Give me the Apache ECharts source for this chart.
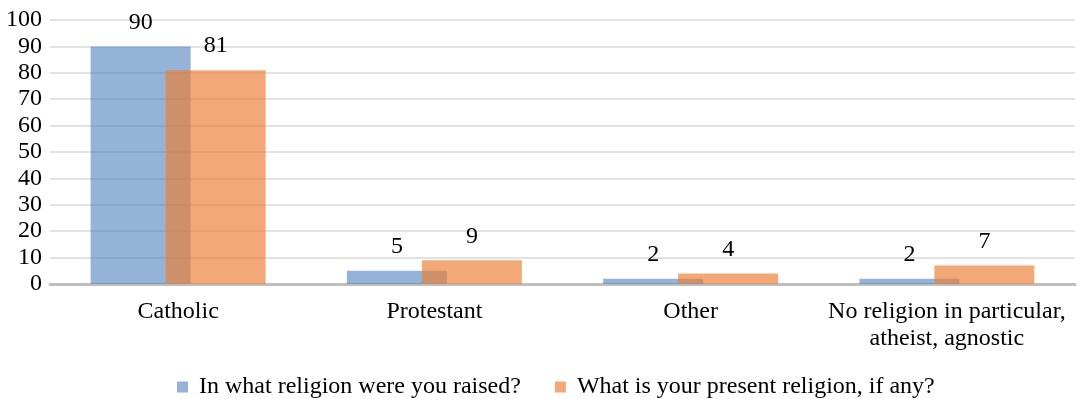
<!DOCTYPE html>
<html>
<head>
<meta charset="utf-8">
<script src="https://cdn.jsdelivr.net/npm/echarts@6/dist/echarts.min.js"></script>
<style>
  html, body { margin: 0; padding: 0; background: #fff; }
  #chart { width: 1085px; height: 399px; }
</style>
</head>
<body>
<div id="chart"></div>
<script>
// Survey answers, percent of respondents
const categories = ['Catholic', 'Protestant', 'Other', 'No religion in particular,\natheist, agnostic'];
const raisedName = 'In what religion were you raised?';
const presentName = 'What is your present religion, if any?';
const raisedValues = [90, 5, 2, 2];
const presentValues = [81, 9, 4, 7];
const yTicks = { min: 0, max: 100, step: 10 };

const FONT = "'Liberation Serif', 'Times New Roman', serif";

const chart = echarts.init(document.getElementById('chart'), null, { renderer: 'canvas' });

const valueLabel = {
  show: true,
  position: 'top',
  distance: 12,
  color: '#000',
  fontFamily: FONT,
  fontSize: 24
};

chart.setOption({
  animation: false,
  backgroundColor: '#fff',
  grid: { left: 50, right: 10, top: 20, bottom: 115, containLabel: false },
  legend: {
    left: 172,
    top: 370,
    icon: 'rect',
    itemWidth: 11,
    itemHeight: 11,
    itemGap: 34,
    textStyle: { color: '#000', fontFamily: FONT, fontSize: 24, padding: [0, 0, 0, 6] },
    data: [raisedName, presentName]
  },
  xAxis: {
    type: 'category',
    data: categories,
    axisLine: { show: true, lineStyle: { color: '#BFBFBF', width: 3 } },
    axisTick: { show: false },
    axisLabel: {
      interval: 0,
      margin: 14,
      color: '#000',
      fontFamily: FONT,
      fontSize: 24,
      lineHeight: 27
    }
  },
  yAxis: {
    type: 'value',
    min: yTicks.min,
    max: yTicks.max,
    interval: yTicks.step,
    axisLine: { show: false },
    axisTick: { show: false },
    splitLine: { lineStyle: { color: '#D9D9D9', width: 1.5 } },
    axisLabel: { margin: 8, color: '#000', fontFamily: FONT, fontSize: 24 }
  },
  series: [
    {
      name: raisedName,
      type: 'bar',
      data: raisedValues,
      barWidth: 100,
      barGap: '-25%',
      itemStyle: { color: 'rgba(79,129,189,0.6)' },
      label: valueLabel
    },
    {
      name: presentName,
      type: 'bar',
      data: presentValues,
      barWidth: 100,
      barGap: '-25%',
      itemStyle: { color: 'rgba(237,125,49,0.66)' },
      label: valueLabel
    }
  ]
});
</script>
</body>
</html>
